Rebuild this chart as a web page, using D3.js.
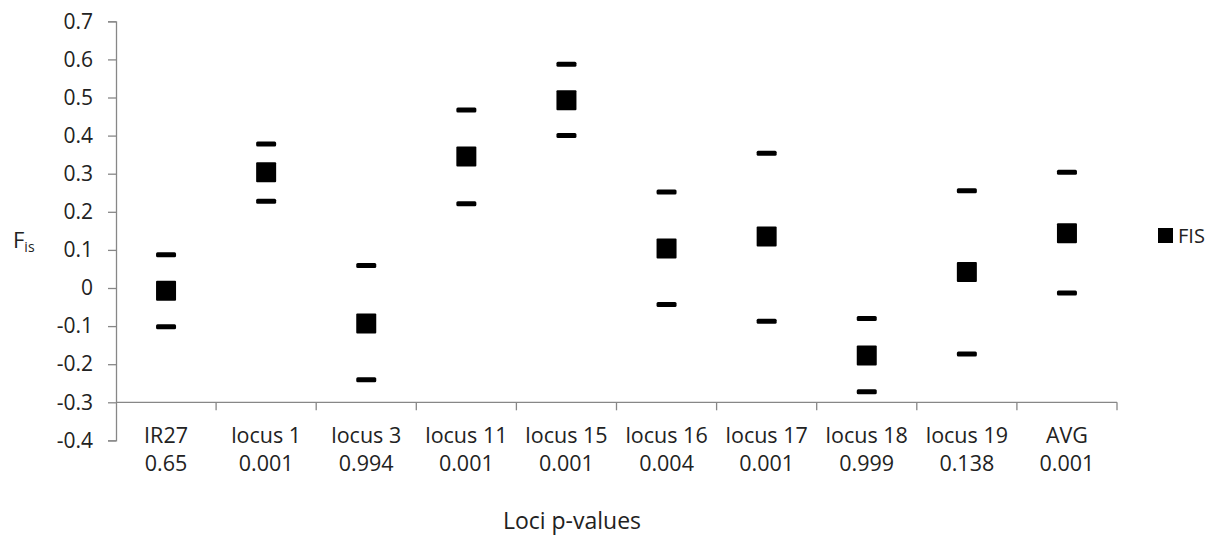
<!DOCTYPE html>
<html>
<head>
<meta charset="utf-8">
<script src="https://cdn.jsdelivr.net/npm/d3@7"></script>
<style>
  body { margin: 0; background: #fff; }
  svg { display: block; font-family: "Open Sans", "Noto Sans", sans-serif; }
  .tick text { fill: #222; }
</style>
</head>
<body>
<svg id="chart" width="1219" height="538"></svg>
<script>
// loci names, p-values and Fis estimates with their upper/lower bounds
const loci = ["IR27", "locus 1", "locus 3", "locus 11", "locus 15", "locus 16", "locus 17", "locus 18", "locus 19", "AVG"];
const pValues = ["0.65", "0.001", "0.994", "0.001", "0.001", "0.004", "0.001", "0.999", "0.138", "0.001"];
const fis = [-0.007, 0.304, -0.093, 0.345, 0.493, 0.104, 0.135, -0.177, 0.042, 0.144];
const upper = [0.087, 0.378, 0.059, 0.467, 0.587, 0.252, 0.354, -0.080, 0.255, 0.304];
const lower = [-0.102, 0.228, -0.241, 0.221, 0.400, -0.043, -0.087, -0.272, -0.173, -0.013];
const yTicks = [-0.4, -0.3, -0.2, -0.1, 0, 0.1, 0.2, 0.3, 0.4, 0.5, 0.6, 0.7];

const svg = d3.select("#chart");
const axisColor = "#878787";

const x = d3.scaleBand().domain(loci).range([116, 1117]).paddingInner(0).paddingOuter(0);
const y = d3.scaleLinear().domain([-0.4, 0.7]).range([440.4, 21.3]);

// y axis
const yAxis = svg.append("g")
  .attr("transform", "translate(116,0)")
  .call(d3.axisLeft(y).tickValues(yTicks).tickSize(8).tickPadding(15)
    .tickFormat(d => d === 0 ? "0" : d3.format(".1f")(d).replace("\u2212", "-")));
yAxis.select(".domain").attr("stroke", axisColor).attr("stroke-width", 1.3);
yAxis.selectAll(".tick line").attr("stroke", axisColor).attr("stroke-width", 1.3);
yAxis.selectAll(".tick text").style("font-size", "21px").attr("font-family", "Open Sans");

// horizontal category axis sits at y = -0.3
const y0 = y(-0.3);
svg.append("line")
  .attr("x1", x.range()[0]).attr("x2", x.range()[1])
  .attr("y1", y0).attr("y2", y0)
  .attr("stroke", axisColor).attr("stroke-width", 1.3);

const bounds = loci.map(d => x(d)).concat([x.range()[1]]);
svg.selectAll(".cat-tick")
  .data(bounds.slice(1))
  .enter().append("line")
  .attr("class", "cat-tick")
  .attr("x1", d => d).attr("x2", d => d)
  .attr("y1", y0).attr("y2", y0 + 8)
  .attr("stroke", axisColor).attr("stroke-width", 1.3);

// category labels (two lines)
const lab = svg.selectAll(".cat-label")
  .data(loci)
  .enter().append("text")
  .attr("class", "cat-label")
  .attr("text-anchor", "middle")
  .style("font-size", "21.5px")
  .attr("fill", "#222");
lab.append("tspan")
  .attr("x", d => x(d) + x.bandwidth() / 2)
  .attr("y", 443)
  .text(d => d);
lab.append("tspan")
  .attr("x", d => x(d) + x.bandwidth() / 2)
  .attr("y", 471)
  .text((d, i) => pValues[i]);

// markers
const cx = i => x(loci[i]) + x.bandwidth() / 2;
const pts = svg.append("g");
pts.selectAll(".hi")
  .data(upper).enter().append("rect")
  .attr("x", (d, i) => cx(i) - 10).attr("y", d => y(d) - 2.5)
  .attr("width", 20).attr("height", 5).attr("rx", 1.5).attr("fill", "#000");
pts.selectAll(".lo")
  .data(lower).enter().append("rect")
  .attr("x", (d, i) => cx(i) - 10).attr("y", d => y(d) - 2.5)
  .attr("width", 20).attr("height", 5).attr("rx", 1.5).attr("fill", "#000");
pts.selectAll(".pt")
  .data(fis).enter().append("rect")
  .attr("x", (d, i) => cx(i) - 10).attr("y", d => y(d) - 10)
  .attr("width", 20).attr("height", 20).attr("rx", 1).attr("fill", "#000");

// y axis title F_is
const yt = svg.append("text").attr("x", 13).attr("y", 248).attr("fill", "#222").style("font-size", "22px");
yt.append("tspan").text("F");
yt.append("tspan").attr("dy", 4).style("font-size", "14px").text("is");

// x axis title
svg.append("text")
  .attr("x", 572).attr("y", 529)
  .attr("text-anchor", "middle")
  .attr("fill", "#222")
  .style("font-size", "23px")
  .text("Loci p-values");

// legend
svg.append("rect").attr("x", 1158).attr("y", 228).attr("width", 15).attr("height", 15).attr("fill", "#000");
svg.append("text").attr("x", 1178).attr("y", 243).attr("fill", "#222").style("font-size", "20px").text("FIS");
</script>
</body>
</html>
